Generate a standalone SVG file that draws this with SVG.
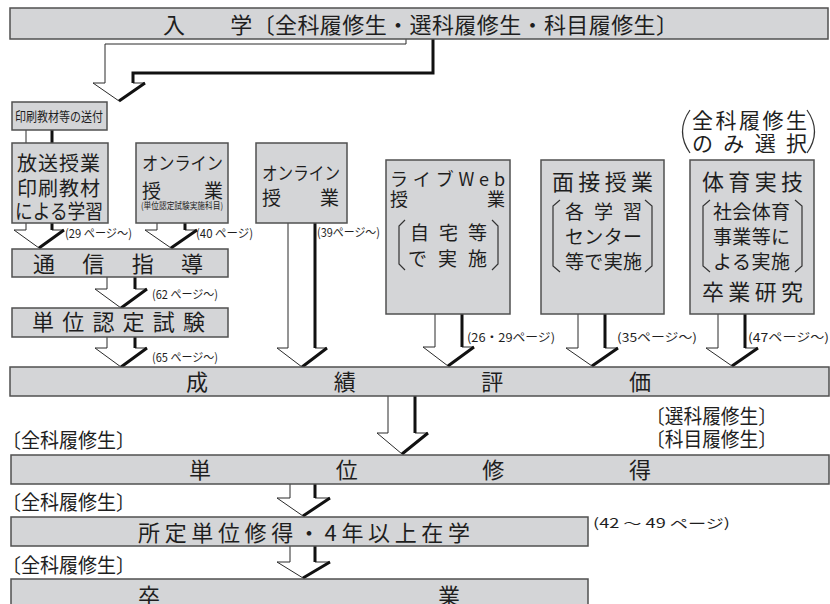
<svg xmlns="http://www.w3.org/2000/svg" width="830" height="604" viewBox="0 0 830 604">
<style>
.bg{fill:#ffffff}
.box{fill:#d4d5d7;stroke:#505050;stroke-width:1.5}
.t{font-family:'Noto Sans CJK JP','Noto Sans CJK SC',sans-serif;fill:#1e1e1e}
.af{fill:#ffffff;stroke:#2a2a2a;stroke-width:1}
.ak{fill:none;stroke:#111111;stroke-width:3}
.ln{fill:none;stroke:#2a2a2a;stroke-width:1}
.br{fill:none;stroke:#333333;stroke-width:1.2}
</style>
<rect class="bg" x="0" y="0" width="830" height="604"/>

<g id="connectors">
  <path class="af" d="M406,39 V44 H105 V83 H93 L119,101 L145,83 H133 V73 H433 V39"/>
  <path class="ak" d="M433,39 V73 H133 V83 M145,83 L119,101"/>
  <path class="ln" d="M26,130 V143"/>
  <path class="ak" d="M52,130 V143"/>
  <path class="af" d="M26,223 V230 H14 L39,248 L64,230 H52 V223"/>
  <path class="ak" d="M52,223 V230 M64,230 L39,248"/>
  <path class="af" d="M157,223 V230 H145 L171,248 L197,230 H185 V223"/>
  <path class="ak" d="M185,223 V230 M197,230 L171,248"/>
  <path class="af" d="M107,277 V289 H95 L121,308 L147,289 H135 V277"/>
  <path class="ak" d="M135,277 V289 M147,289 L121,308"/>
  <path class="af" d="M107,337 V348 H95 L121,367 L147,348 H135 V337"/>
  <path class="ak" d="M135,337 V348 M147,348 L121,367"/>
  <path class="af" d="M288,223 V348 H277 L302,367 L327,348 H315 V223"/>
  <path class="ak" d="M315,223 V348 M327,348 L302,367"/>
  <path class="af" d="M435,314 V347 H423 L448,366 L474,347 H462 V314"/>
  <path class="ak" d="M462,314 V347 M474,347 L448,366"/>
  <path class="af" d="M578,314 V348 H566 L592,366 L618,348 H605 V314"/>
  <path class="ak" d="M605,314 V348 M618,348 L592,366"/>
  <path class="af" d="M718,314 V348 H706 L732,366 L758,348 H745 V314"/>
  <path class="ak" d="M745,314 V348 M758,348 L732,366"/>
  <path class="af" d="M388,396 V433 H377 L402,454 L428,433 H415 V396"/>
  <path class="ak" d="M415,396 V433 M428,433 L402,454"/>
  <path class="af" d="M290,484 V498 H277 L303,516 L330,498 H315 V484"/>
  <path class="ak" d="M315,484 V498 M330,498 L303,516"/>
  <path class="af" d="M290,546 V562 H277 L303,578 L330,562 H315 V546"/>
  <path class="ak" d="M315,546 V562 M330,562 L303,578"/>
  <text class="t" x="65" y="238" font-size="12" textLength="67" lengthAdjust="spacingAndGlyphs">(29 ページ〜)</text>
  <text class="t" x="196" y="238" font-size="12" textLength="57" lengthAdjust="spacingAndGlyphs">(40 ページ)</text>
  <text class="t" x="317" y="237" font-size="12" textLength="63" lengthAdjust="spacingAndGlyphs">(39ページ〜)</text>
  <text class="t" x="152" y="299" font-size="12" textLength="66" lengthAdjust="spacingAndGlyphs">(62 ページ〜)</text>
  <text class="t" x="152" y="362" font-size="12" textLength="66" lengthAdjust="spacingAndGlyphs">(65 ページ〜)</text>
  <text class="t" x="467" y="342" font-size="12" textLength="88" lengthAdjust="spacingAndGlyphs">(26・29ページ)</text>
  <text class="t" x="617" y="342" font-size="12" textLength="80" lengthAdjust="spacingAndGlyphs">(35ページ〜)</text>
  <text class="t" x="748" y="342" font-size="12" textLength="81" lengthAdjust="spacingAndGlyphs">(47ページ〜)</text>
  <text class="t" x="593" y="528" font-size="13" textLength="137" lengthAdjust="spacingAndGlyphs">(42 〜 49 ページ)</text>
  <text class="t" x="2" y="448" font-size="20" textLength="133" lengthAdjust="spacingAndGlyphs">〔全科履修生〕</text>
  <text class="t" x="2" y="510" font-size="20" textLength="133" lengthAdjust="spacingAndGlyphs">〔全科履修生〕</text>
  <text class="t" x="2" y="573" font-size="20" textLength="133" lengthAdjust="spacingAndGlyphs">〔全科履修生〕</text>
  <text class="t" x="646" y="424" font-size="20" textLength="131" lengthAdjust="spacingAndGlyphs">〔選科履修生〕</text>
  <text class="t" x="646" y="447" font-size="20" textLength="131" lengthAdjust="spacingAndGlyphs">〔科目履修生〕</text>
</g>

<g id="n-nyugaku">
  <rect class="box" x="10" y="8" width="818" height="31"/>
  <text class="t" x="163" y="33" font-size="22" textLength="515" lengthAdjust="spacing">入　　学〔全科履修生・選科履修生・科目履修生〕</text>
</g>

<g id="n-soufu">
  <rect class="box" x="12" y="102" width="95" height="28"/>
  <text class="t" x="15" y="121" font-size="13" textLength="88" lengthAdjust="spacingAndGlyphs">印刷教材等の送付</text>
</g>

<g id="n-housou">
  <rect class="box" x="12" y="143" width="96" height="80"/>
  <text class="t" x="17" y="171" font-size="20" textLength="83" lengthAdjust="spacing">放送授業</text>
  <text class="t" x="17" y="196" font-size="20" textLength="83" lengthAdjust="spacing">印刷教材</text>
  <text class="t" x="15" y="219" font-size="20" textLength="88" lengthAdjust="spacingAndGlyphs">による学習</text>
</g>

<g id="n-online1">
  <rect class="box" x="136" y="143" width="92" height="80"/>
  <text class="t" x="142" y="170" font-size="18" textLength="81" lengthAdjust="spacingAndGlyphs">オンライン</text>
  <text class="t" x="142" y="198" font-size="19">授</text>
  <text class="t" x="204" y="198" font-size="19">業</text>
  <text class="t" x="141" y="209" font-size="9" textLength="82" lengthAdjust="spacingAndGlyphs">(単位認定試験実施科目)</text>
</g>

<g id="n-online2">
  <rect class="box" x="256" y="143" width="91" height="80"/>
  <text class="t" x="262" y="180" font-size="18" textLength="78" lengthAdjust="spacingAndGlyphs">オンライン</text>
  <text class="t" x="262" y="205" font-size="19">授</text>
  <text class="t" x="320" y="205" font-size="19">業</text>
</g>

<g id="n-tsushin">
  <rect class="box" x="12" y="249" width="216" height="28"/>
  <text class="t" x="33" y="272" font-size="22" textLength="170" lengthAdjust="spacing">通信指導</text>
</g>

<g id="n-shiken">
  <rect class="box" x="12" y="308" width="216" height="29"/>
  <text class="t" x="32" y="330" font-size="22" textLength="173" lengthAdjust="spacing">単位認定試験</text>
</g>

<g id="n-liveweb">
  <rect class="box" x="386" y="160" width="124" height="154"/>
  <text class="t" x="390" y="186" font-size="18" textLength="115" lengthAdjust="spacing">ライブWeb</text>
  <text class="t" x="390" y="206" font-size="18">授</text>
  <text class="t" x="487" y="206" font-size="18">業</text>
  <path class="br" d="M405,220 L399,226 V264 L405,270"/>
  <path class="br" d="M492,220 L498,226 V264 L492,270"/>
  <text class="t" x="410" y="240" font-size="19" textLength="77" lengthAdjust="spacing">自宅等</text>
  <text class="t" x="408" y="266" font-size="19" textLength="79" lengthAdjust="spacing">で実施</text>
</g>

<g id="n-mensetsu">
  <rect class="box" x="541" y="160" width="123" height="154"/>
  <text class="t" x="552" y="190" font-size="22" textLength="101" lengthAdjust="spacing">面接授業</text>
  <path class="br" d="M560,200 L553,206 V266 L560,272"/>
  <path class="br" d="M645,200 L652,206 V266 L645,272"/>
  <text class="t" x="565" y="219" font-size="19" textLength="77" lengthAdjust="spacing">各学習</text>
  <text class="t" x="565" y="244" font-size="19" textLength="77" lengthAdjust="spacing">センター</text>
  <text class="t" x="565" y="269" font-size="19" textLength="77" lengthAdjust="spacing">等で実施</text>
</g>

<g id="n-taiiku">
  <text class="t" x="692" y="128" font-size="21" textLength="115" lengthAdjust="spacing">全科履修生</text>
  <text class="t" x="692" y="151" font-size="21" textLength="115" lengthAdjust="spacing">のみ選択</text>
  <path class="br" d="M690,110 Q675,131.5 690,153"/>
  <path class="br" d="M807,110 Q822,131.5 807,153"/>
  <rect class="box" x="690" y="160" width="124" height="154"/>
  <text class="t" x="702" y="190" font-size="22" textLength="101" lengthAdjust="spacing">体育実技</text>
  <path class="br" d="M710,200 L703,206 V266 L710,272"/>
  <path class="br" d="M795,200 L802,206 V266 L795,272"/>
  <text class="t" x="713" y="219" font-size="19" textLength="77" lengthAdjust="spacing">社会体育</text>
  <text class="t" x="713" y="244" font-size="19" textLength="77" lengthAdjust="spacing">事業等に</text>
  <text class="t" x="713" y="269" font-size="19" textLength="77" lengthAdjust="spacing">よる実施</text>
  <text class="t" x="702" y="300" font-size="22" textLength="101" lengthAdjust="spacing">卒業研究</text>
</g>

<g id="n-seiseki">
  <rect class="box" x="10" y="367" width="819" height="29"/>
  <text class="t" x="186" y="390" font-size="22" textLength="465" lengthAdjust="spacing">成績評価</text>
</g>

<g id="n-tanni">
  <rect class="box" x="11" y="455" width="818" height="29"/>
  <text class="t" x="189" y="478" font-size="22" textLength="462" lengthAdjust="spacing">単位修得</text>
</g>

<g id="n-shotei">
  <rect class="box" x="11" y="517" width="577" height="29"/>
  <text class="t" x="138" y="541" font-size="22" textLength="332" lengthAdjust="spacing">所定単位修得・4年以上在学</text>
</g>

<g id="n-sotsugyo">
  <rect class="box" x="11" y="579" width="577" height="32"/>
  <text class="t" x="138" y="604" font-size="22" textLength="322" lengthAdjust="spacing">卒業</text>
</g>
</svg>
